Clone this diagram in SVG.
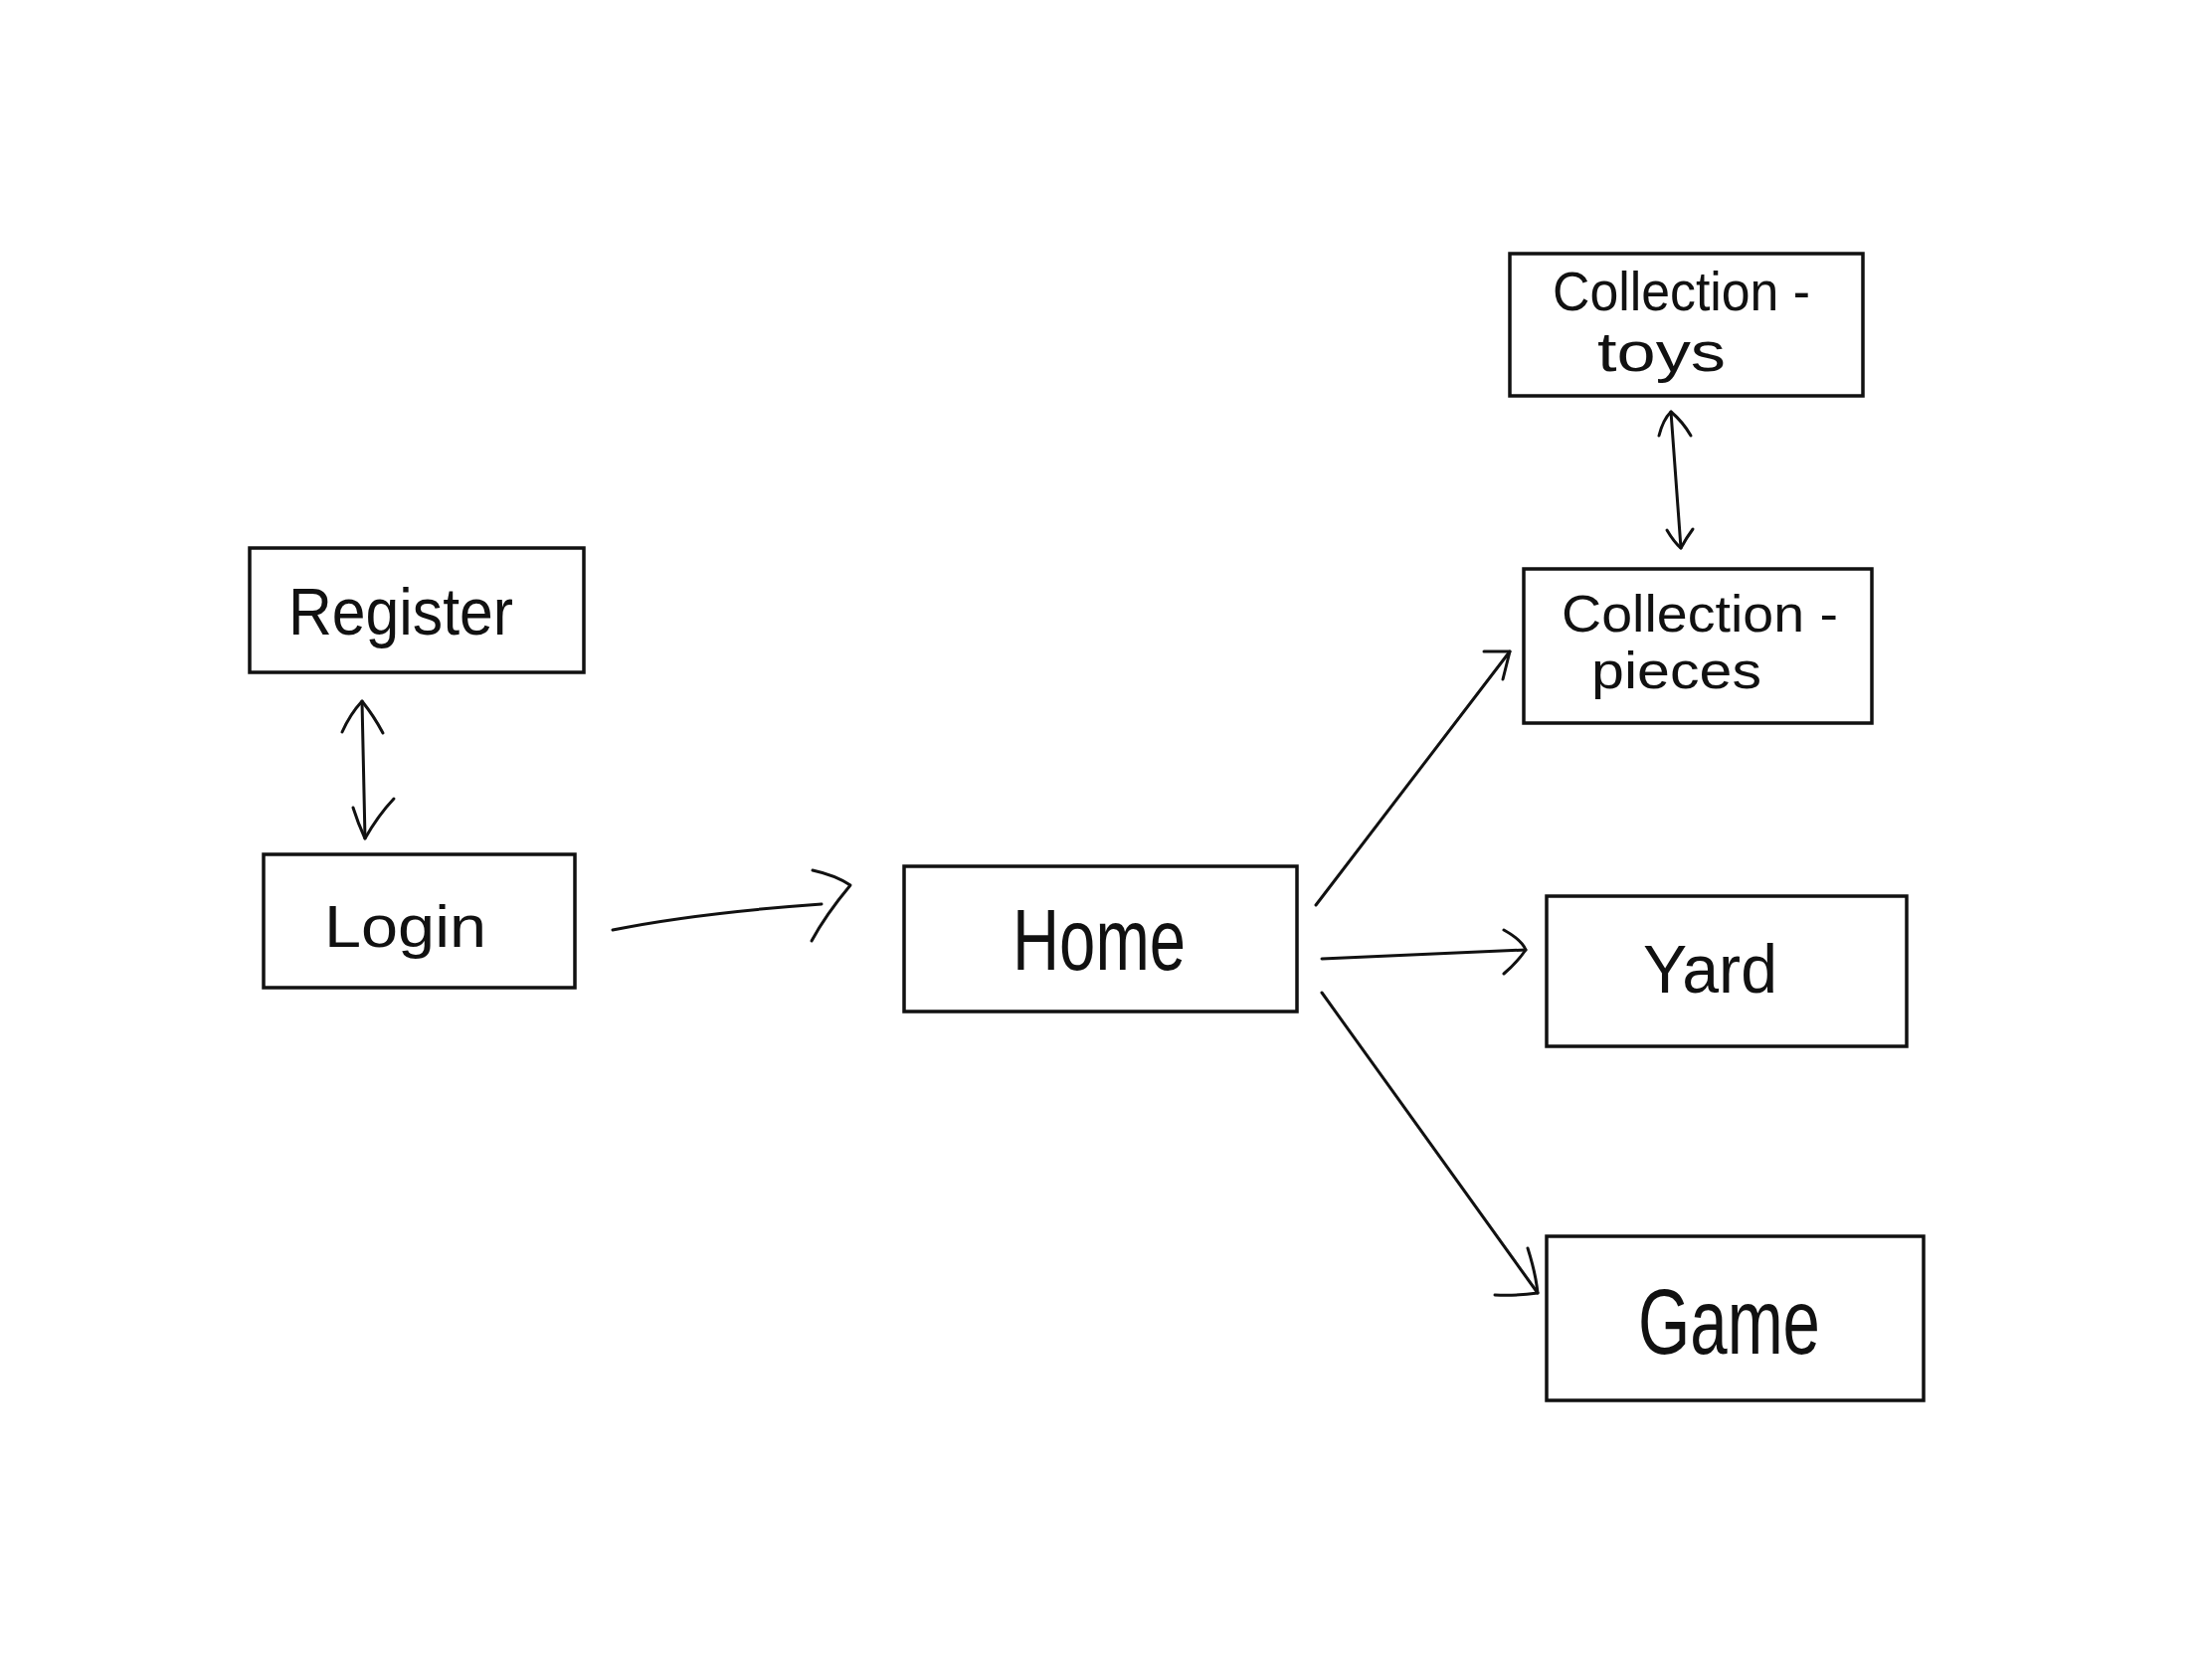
<svg xmlns="http://www.w3.org/2000/svg" width="2224" height="1668" viewBox="0 0 2224 1668">
<style>
.box{fill:#fff;stroke:#111;stroke-width:3.5}
.lbl{font-family:"Liberation Sans","DejaVu Sans",sans-serif;fill:#111;font-weight:normal}
.con{fill:none;stroke:#111;stroke-width:3;stroke-linecap:round;stroke-linejoin:round}
</style>
<rect width="2224" height="1668" fill="#fff"/>
<g id="register"><rect class="box" x="251" y="551" width="336" height="125"/><text class="lbl" x="290" y="638" font-size="66" textLength="226" lengthAdjust="spacingAndGlyphs">Register</text></g>
<g id="login"><rect class="box" x="265" y="859" width="313" height="134"/><text class="lbl" x="326" y="952" font-size="60" textLength="163" lengthAdjust="spacingAndGlyphs">Login</text></g>
<g id="home"><rect class="box" x="909" y="871" width="395" height="146"/><text class="lbl" x="1018" y="975" font-size="88" textLength="174" lengthAdjust="spacingAndGlyphs">Home</text></g>
<g id="collection-toys"><rect class="box" x="1518" y="255" width="355" height="143"/><text class="lbl" x="1561" y="312" font-size="56" textLength="259" lengthAdjust="spacingAndGlyphs">Collection -</text><text class="lbl" x="1606" y="373" font-size="56" textLength="129" lengthAdjust="spacingAndGlyphs">toys</text></g>
<g id="collection-pieces"><rect class="box" x="1532" y="572" width="350" height="155"/><text class="lbl" x="1570" y="635" font-size="52" textLength="278" lengthAdjust="spacingAndGlyphs">Collection -</text><text class="lbl" x="1600" y="692" font-size="52" textLength="171" lengthAdjust="spacingAndGlyphs">pieces</text></g>
<g id="yard"><rect class="box" x="1555" y="901" width="362" height="151"/><text class="lbl" x="1652" y="998" font-size="68" textLength="135" lengthAdjust="spacingAndGlyphs">Yard</text></g>
<g id="game"><rect class="box" x="1555" y="1243" width="379" height="165"/><text class="lbl" x="1647" y="1361" font-size="92" textLength="183" lengthAdjust="spacingAndGlyphs">Game</text></g>
<g id="connectors">
<path class="con" d="M364 705 L367 843"/>
<path class="con" d="M344 736 Q352 718 364 705 Q376 720 385 737"/>
<path class="con" d="M355 812 Q360 828 367 843 Q380 820 396 803"/>
<path class="con" d="M616 935 Q700 918 826 909"/>
<path class="con" d="M817 875 Q840 880 855 890 Q830 920 816 946"/>
<path class="con" d="M1680 414 L1690 551"/>
<path class="con" d="M1668 438 Q1672 422 1680 414 Q1692 424 1700 438"/>
<path class="con" d="M1676 533 Q1683 545 1690 551 Q1696 540 1702 532"/>
<path class="con" d="M1323 910 L1518 655"/>
<path class="con" d="M1492 655 L1518 655 L1511 683"/>
<path class="con" d="M1329 964 L1534 955"/>
<path class="con" d="M1512 935 Q1530 945 1534 955 Q1525 968 1512 979"/>
<path class="con" d="M1329 998 L1546 1300"/>
<path class="con" d="M1536 1255 Q1544 1280 1546 1300 Q1525 1303 1503 1302"/>
</g>
</svg>
